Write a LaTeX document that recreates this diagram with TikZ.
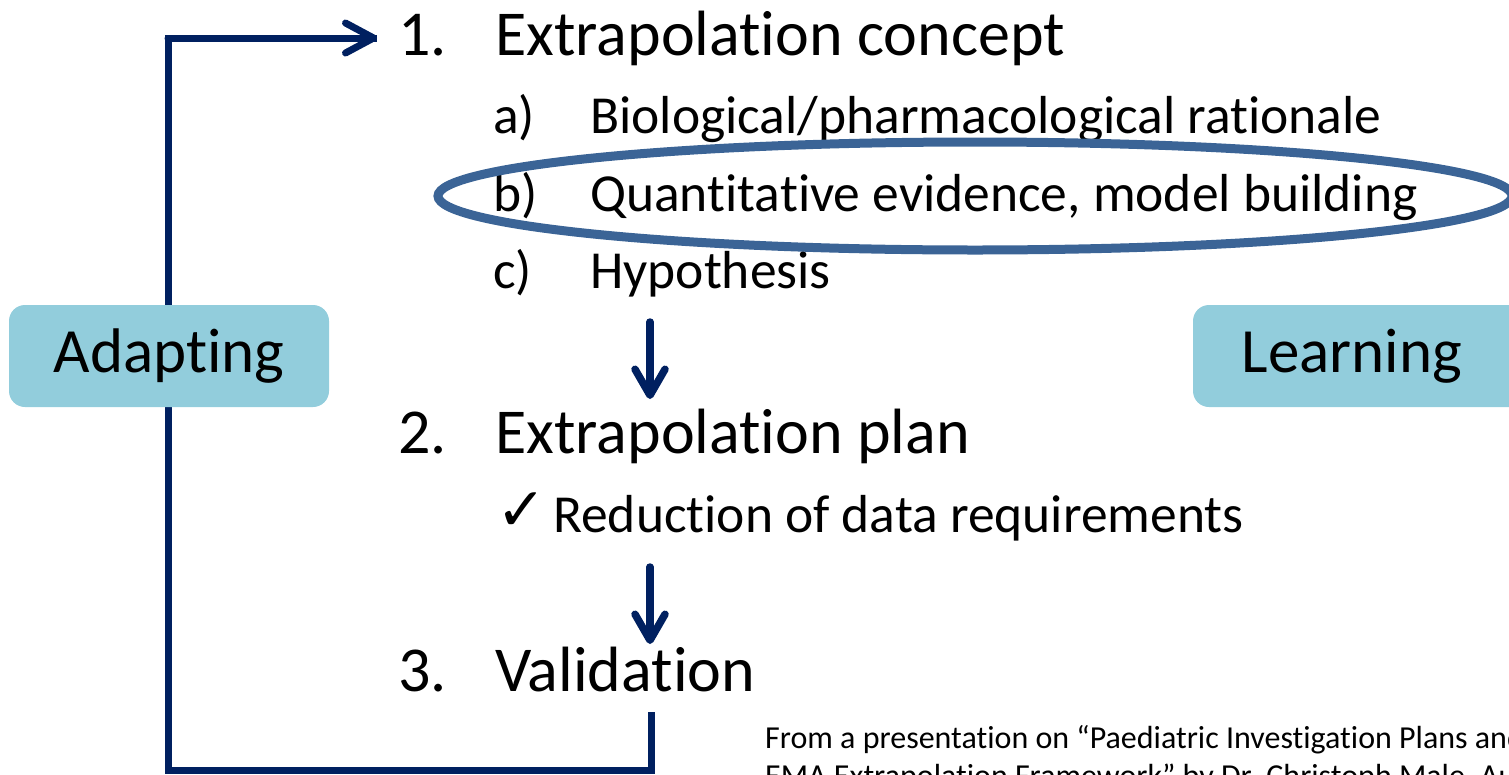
\documentclass[tikz,border=0pt]{standalone}
\usepackage{fontspec}
\setmainfont{Carlito}[Ligatures=NoCommon]
\newfontfamily\symfont{DejaVu Sans}
\usetikzlibrary{arrows.meta}
\definecolor{navy}{RGB}{0,32,96}
\definecolor{boxblue}{RGB}{146,205,220}
\definecolor{ringblue}{RGB}{59,100,150}
\tikzset{
  flow/.style={draw=navy, line width=7.5pt, line cap=round,
    -{Straight Barb[length=26pt,width=30pt,round]}},
  loopline/.style={draw=navy, line width=7pt},
  headtxt/.style={anchor=base west, inner sep=0pt, font=\fontsize{64}{70}\selectfont},
  subtxt/.style={anchor=base west, inner sep=0pt, font=\fontsize{53.5}{60}\selectfont},
  sidebox/.style={fill=boxblue, rounded corners=16pt, minimum height=102pt,
    inner sep=0pt, font=\fontsize{63}{70}\selectfont},
  foot/.style={anchor=base west, inner sep=0pt, font=\fontsize{32}{36}\selectfont},
}
\begin{document}
\begin{tikzpicture}[x=1pt,y=-1pt]
\useasboundingbox (0,0) rectangle (1509,774);
\clip (0,0) rectangle (1509,774);
% feedback loop coordinates
\coordinate (vbot) at (651,712);
\coordinate (c1) at (651,770);
\coordinate (c2) at (168,770);
\coordinate (c3) at (168,38);
\coordinate (tip1) at (377,38);
\draw[loopline] (vbot) -- (c1) -- (c2) -- (c3) -- (tip1);
\draw[navy, line width=7pt, line cap=round, -{Straight Barb[length=28pt,width=30pt,round]}] (c3) -- (tip1);
% side boxes
\node[sidebox, minimum width=320pt] (adapt) at (169,356) {Adapting};
\node[sidebox, minimum width=340pt] (learn) at (1363,356) {\hspace*{-22pt}Learning};
% headings
\node[headtxt] (n1) at (398,55) {1.};
\node[headtxt] (h1) at (495,55) {Extrapolation concept};
\node[subtxt] (la) at (493,133) {a)};
\node[subtxt] (ta) at (590,133) {Biological/pharmacological rationale};
\node[subtxt] (lb) at (493,211) {b)};
\node[subtxt] (tb) at (590,211) {Quantitative evidence, model building};
\node[subtxt] (lc) at (493,288) {c)};
\node[subtxt] (tc) at (590,288) {Hypothesis};
\node[headtxt] (n2) at (398,453) {2.};
\node[headtxt] (h2) at (495,453) {Extrapolation plan};
\node[subtxt] (chk) at (496,530) {\symfont\fontsize{60}{64}\selectfont ✓};
\node[subtxt] (tr) at (553,532) {Reduction of data requirements};
\node[headtxt] (n3) at (398,691) {3.};
\node[headtxt] (h3) at (495,691) {Validation};
% ellipse highlight
\draw[ringblue, line width=9pt] (975,196) ellipse [x radius=537, y radius=54];
% down arrows
\coordinate (a1s) at (650,322);
\coordinate (a1e) at (650,399);
\coordinate (a2s) at (650,567);
\coordinate (a2e) at (650,644);
\draw[flow] (a1s) -- (a1e);
\draw[flow] (a2s) -- (a2e);
% footer
\node[foot] (f1) at (765,748) {From a presentation on “Paediatric Investigation Plans and the};
\node[foot] (f2) at (765,786) {EMA Extrapolation Framework” by Dr. Christoph Male, Austria};
\end{tikzpicture}
\end{document}
